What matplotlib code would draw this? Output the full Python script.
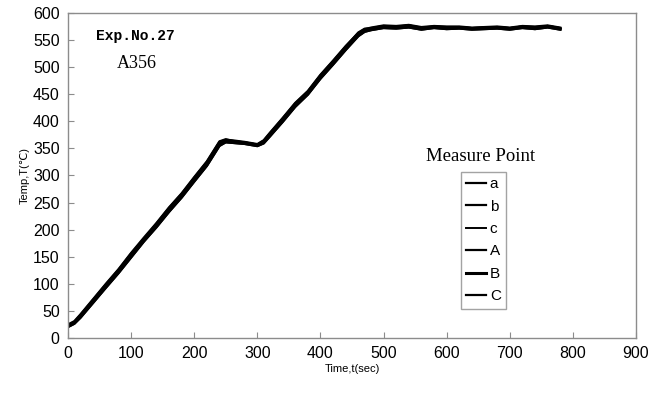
import matplotlib
matplotlib.use("Agg")
import matplotlib.pyplot as plt

# time points (sec)
t = [0, 10, 20, 40, 60, 80, 100, 120, 140, 160, 180, 200, 220, 240, 250, 260,
     280, 300, 310, 320, 340, 360, 380, 400, 420, 440, 460, 470, 480, 500,
     520, 540, 560, 580, 600, 620, 640, 660, 680, 700, 720, 740, 760, 780]

# temperatures (C) for each measure point
temp_a = [22, 28, 40, 68, 95, 122, 152, 180, 207, 236, 262, 292, 320, 358, 364, 362,
          360, 356, 362, 375, 402, 430, 452, 482, 508, 535, 560, 568, 570, 574,
          573, 576, 571, 574, 572, 573, 571, 572, 573, 571, 574, 572, 575, 571]
temp_b = [24, 30, 43, 71, 99, 126, 156, 183, 211, 240, 266, 296, 325, 362, 366, 365,
          362, 358, 365, 379, 406, 434, 456, 486, 512, 539, 563, 570, 573, 577,
          576, 578, 574, 576, 575, 575, 573, 574, 575, 573, 576, 575, 577, 573]
temp_c = [20, 26, 37, 65, 92, 119, 148, 177, 204, 232, 259, 288, 317, 354, 361, 360,
          358, 354, 359, 372, 398, 426, 449, 478, 504, 531, 557, 565, 568, 572,
          571, 573, 569, 572, 570, 571, 569, 570, 571, 569, 572, 570, 573, 569]
temp_A = [23, 29, 41, 69, 97, 124, 154, 182, 209, 238, 264, 294, 323, 360, 365, 363,
          361, 357, 363, 377, 404, 432, 454, 484, 510, 537, 562, 569, 571, 575,
          574, 577, 572, 575, 573, 574, 572, 573, 574, 572, 575, 573, 576, 572]
temp_B = [21, 27, 39, 66, 94, 121, 150, 179, 205, 234, 260, 290, 319, 356, 362, 361,
          359, 355, 360, 373, 400, 428, 450, 480, 506, 533, 558, 566, 569, 573,
          572, 574, 570, 573, 571, 572, 570, 571, 572, 570, 573, 571, 574, 570]
temp_C = [25, 31, 44, 72, 100, 127, 157, 185, 212, 241, 267, 297, 326, 363, 367, 364,
          361, 357, 364, 378, 405, 433, 455, 485, 511, 538, 564, 571, 572, 576,
          575, 577, 573, 575, 574, 574, 572, 573, 574, 572, 575, 574, 576, 572]

labels = ["a", "b", "c", "A", "B", "C"]
series = [temp_a, temp_b, temp_c, temp_A, temp_B, temp_C]
widths = [1.6, 1.6, 1.4, 1.6, 2.2, 1.6]

sans = ["Liberation Sans", "DejaVu Sans"]
grey = "#8c8c8c"

fig = plt.figure(figsize=(6.64, 3.98), dpi=100)
ax = fig.add_axes([0.1024, 0.1508, 0.8554, 0.8166])

for lab, vals, lw in zip(labels, series, widths):
    ax.plot(t, vals, color="black", lw=lw, label=lab)

ax.set_xlim(0, 900)
ax.set_ylim(0, 600)
ax.set_xticks(range(0, 901, 100))
ax.set_yticks(range(0, 601, 50))
ax.tick_params(direction="in", length=4, color=grey, labelsize=11.5, pad=6)
for lab in ax.get_xticklabels() + ax.get_yticklabels():
    lab.set_family(sans)
for sp in ax.spines.values():
    sp.set_color(grey)
    sp.set_linewidth(1.0)

ax.set_xlabel("Time,t(sec)", fontsize=8, family=sans, labelpad=2)
ax.set_ylabel("Temp,T(\u2103)", fontsize=8, family=sans, labelpad=2)

ax.text(0.049, 0.93, "Exp.No.27", transform=ax.transAxes, fontsize=10.5,
        family="Liberation Mono", weight="bold", ha="left", va="center")
ax.text(0.086, 0.845, "A356", transform=ax.transAxes, fontsize=13,
        family="Liberation Serif", ha="left", va="center")

fig.text(0.723, 0.607, "Measure Point", fontsize=13.5, family="Liberation Serif",
         ha="center", va="center")

# legend box sits below its title, like the original
leg = ax.legend(loc="upper left", bbox_to_anchor=(0.694, 0.568),
                bbox_transform=fig.transFigure, frameon=True, fancybox=False,
                handlelength=1.3, handletextpad=0.25, labelspacing=0.55,
                borderpad=0.35, borderaxespad=0,
                prop={"family": sans, "size": 11})
leg.get_frame().set_edgecolor(grey)
leg.get_frame().set_linewidth(1.0)

fig.savefig("out.png", dpi=100)
